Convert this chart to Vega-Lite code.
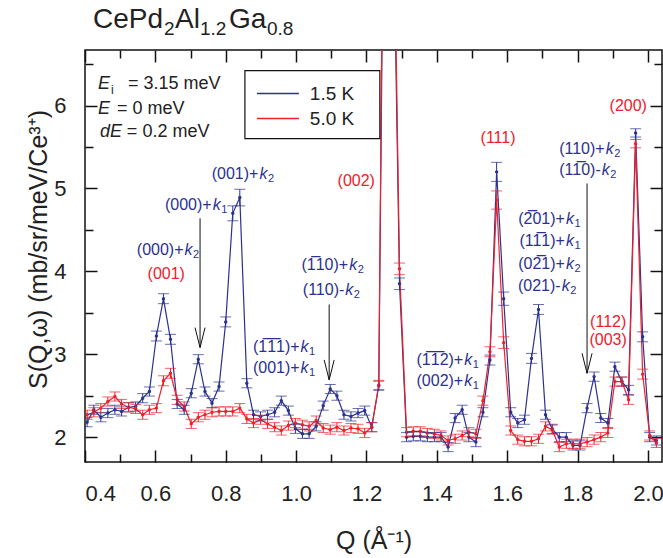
{
"$schema": "https://vega.github.io/schema/vega-lite/v6.json",
"width": 577, "height": 412, "autosize": "none",
"padding": {"left": 85, "top": 50, "right": 1, "bottom": 96},
"background": "white",
"config": {
 "font": "Liberation Sans",
 "view": {"stroke": "#111", "strokeWidth": 1.5},
 "axis": {"grid": false, "domain": false, "tickColor": "#111", "tickWidth": 1.5, "labelFont": "Liberation Sans", "labelFontSize": 22, "labelColor": "#222", "titleFont": "Liberation Sans", "titleFontWeight": "normal", "titleFontSize": 25, "titleColor": "#222"}
},
"datasets": {
"d": [
{"Q":0.406,"T":"1.5 K","S":2.18,"e":0.055},{"Q":0.425,"T":"1.5 K","S":2.33,"e":0.055},{"Q":0.445,"T":"1.5 K","S":2.24,"e":0.055},{"Q":0.465,"T":"1.5 K","S":2.29,"e":0.055},{"Q":0.485,"T":"1.5 K","S":2.33,"e":0.055},{"Q":0.504,"T":"1.5 K","S":2.31,"e":0.055},{"Q":0.524,"T":"1.5 K","S":2.36,"e":0.055},{"Q":0.544,"T":"1.5 K","S":2.37,"e":0.055},{"Q":0.564,"T":"1.5 K","S":2.47,"e":0.055},{"Q":0.583,"T":"1.5 K","S":2.55,"e":0.055},
{"Q":0.603,"T":"1.5 K","S":3.22,"e":0.06},{"Q":0.623,"T":"1.5 K","S":3.67,"e":0.06},{"Q":0.643,"T":"1.5 K","S":3.18,"e":0.06},{"Q":0.662,"T":"1.5 K","S":2.40,"e":0.055},{"Q":0.682,"T":"1.5 K","S":2.33,"e":0.055},{"Q":0.702,"T":"1.5 K","S":2.53,"e":0.055},{"Q":0.722,"T":"1.5 K","S":2.94,"e":0.055},{"Q":0.741,"T":"1.5 K","S":2.55,"e":0.055},{"Q":0.761,"T":"1.5 K","S":2.41,"e":0.055},{"Q":0.781,"T":"1.5 K","S":2.61,"e":0.055},
{"Q":0.800,"T":"1.5 K","S":3.39,"e":0.06},{"Q":0.820,"T":"1.5 K","S":4.70,"e":0.09},{"Q":0.840,"T":"1.5 K","S":4.89,"e":0.1},{"Q":0.860,"T":"1.5 K","S":2.65,"e":0.055},{"Q":0.879,"T":"1.5 K","S":2.27,"e":0.055},{"Q":0.899,"T":"1.5 K","S":2.25,"e":0.055},{"Q":0.919,"T":"1.5 K","S":2.27,"e":0.055},{"Q":0.939,"T":"1.5 K","S":2.30,"e":0.055},{"Q":0.958,"T":"1.5 K","S":2.44,"e":0.055},{"Q":0.978,"T":"1.5 K","S":2.32,"e":0.055},
{"Q":0.998,"T":"1.5 K","S":2.10,"e":0.055},{"Q":1.018,"T":"1.5 K","S":2.04,"e":0.055},{"Q":1.037,"T":"1.5 K","S":2.04,"e":0.055},{"Q":1.057,"T":"1.5 K","S":2.13,"e":0.055},{"Q":1.077,"T":"1.5 K","S":2.38,"e":0.055},{"Q":1.097,"T":"1.5 K","S":2.58,"e":0.055},{"Q":1.116,"T":"1.5 K","S":2.50,"e":0.055},{"Q":1.136,"T":"1.5 K","S":2.27,"e":0.055},{"Q":1.156,"T":"1.5 K","S":2.25,"e":0.055},{"Q":1.176,"T":"1.5 K","S":2.29,"e":0.055},
{"Q":1.195,"T":"1.5 K","S":2.32,"e":0.055},{"Q":1.215,"T":"1.5 K","S":2.12,"e":0.055},{"Q":1.235,"T":"1.5 K","S":2.62,"e":0.055},{"Q":1.255,"T":"1.5 K","S":11.5,"e":0.2},{"Q":1.274,"T":"1.5 K","S":9.0,"e":0.2},{"Q":1.294,"T":"1.5 K","S":3.85,"e":0.07},{"Q":1.314,"T":"1.5 K","S":2.00,"e":0.055},{"Q":1.333,"T":"1.5 K","S":2.01,"e":0.055},{"Q":1.353,"T":"1.5 K","S":2.01,"e":0.055},{"Q":1.373,"T":"1.5 K","S":2.00,"e":0.055},
{"Q":1.393,"T":"1.5 K","S":2.00,"e":0.055},{"Q":1.412,"T":"1.5 K","S":2.00,"e":0.055},{"Q":1.432,"T":"1.5 K","S":1.88,"e":0.055},{"Q":1.452,"T":"1.5 K","S":2.23,"e":0.055},{"Q":1.472,"T":"1.5 K","S":2.33,"e":0.055},{"Q":1.491,"T":"1.5 K","S":2.00,"e":0.055},{"Q":1.511,"T":"1.5 K","S":1.94,"e":0.055},{"Q":1.531,"T":"1.5 K","S":2.30,"e":0.055},{"Q":1.551,"T":"1.5 K","S":2.93,"e":0.06},{"Q":1.570,"T":"1.5 K","S":5.20,"e":0.115},
{"Q":1.590,"T":"1.5 K","S":3.67,"e":0.08},{"Q":1.610,"T":"1.5 K","S":2.30,"e":0.055},{"Q":1.630,"T":"1.5 K","S":2.17,"e":0.055},{"Q":1.649,"T":"1.5 K","S":2.21,"e":0.055},{"Q":1.669,"T":"1.5 K","S":2.95,"e":0.06},{"Q":1.689,"T":"1.5 K","S":3.54,"e":0.06},{"Q":1.709,"T":"1.5 K","S":2.27,"e":0.055},{"Q":1.728,"T":"1.5 K","S":2.10,"e":0.055},{"Q":1.748,"T":"1.5 K","S":2.00,"e":0.055},{"Q":1.768,"T":"1.5 K","S":2.00,"e":0.055},
{"Q":1.787,"T":"1.5 K","S":1.90,"e":0.055},{"Q":1.807,"T":"1.5 K","S":1.90,"e":0.055},{"Q":1.827,"T":"1.5 K","S":2.35,"e":0.055},{"Q":1.847,"T":"1.5 K","S":2.73,"e":0.055},{"Q":1.866,"T":"1.5 K","S":2.23,"e":0.055},{"Q":1.886,"T":"1.5 K","S":2.17,"e":0.055},{"Q":1.906,"T":"1.5 K","S":2.85,"e":0.055},{"Q":1.926,"T":"1.5 K","S":2.67,"e":0.055},{"Q":1.945,"T":"1.5 K","S":2.57,"e":0.055},{"Q":1.965,"T":"1.5 K","S":5.67,"e":0.05},
{"Q":1.985,"T":"1.5 K","S":3.21,"e":0.06},{"Q":2.005,"T":"1.5 K","S":2.00,"e":0.055},{"Q":2.024,"T":"1.5 K","S":1.96,"e":0.055},
{"Q":0.406,"T":"5.0 K","S":2.27,"e":0.055},{"Q":0.425,"T":"5.0 K","S":2.30,"e":0.055},{"Q":0.445,"T":"5.0 K","S":2.35,"e":0.055},{"Q":0.465,"T":"5.0 K","S":2.43,"e":0.055},{"Q":0.485,"T":"5.0 K","S":2.49,"e":0.055},{"Q":0.504,"T":"5.0 K","S":2.40,"e":0.055},{"Q":0.524,"T":"5.0 K","S":2.36,"e":0.055},{"Q":0.544,"T":"5.0 K","S":2.34,"e":0.055},{"Q":0.564,"T":"5.0 K","S":2.27,"e":0.055},{"Q":0.583,"T":"5.0 K","S":2.33,"e":0.055},
{"Q":0.603,"T":"5.0 K","S":2.35,"e":0.055},{"Q":0.623,"T":"5.0 K","S":2.68,"e":0.06},{"Q":0.643,"T":"5.0 K","S":2.77,"e":0.06},{"Q":0.662,"T":"5.0 K","S":2.45,"e":0.055},{"Q":0.682,"T":"5.0 K","S":2.37,"e":0.055},{"Q":0.702,"T":"5.0 K","S":2.16,"e":0.055},{"Q":0.722,"T":"5.0 K","S":2.24,"e":0.055},{"Q":0.741,"T":"5.0 K","S":2.27,"e":0.055},{"Q":0.761,"T":"5.0 K","S":2.30,"e":0.055},{"Q":0.781,"T":"5.0 K","S":2.31,"e":0.055},
{"Q":0.800,"T":"5.0 K","S":2.31,"e":0.055},{"Q":0.820,"T":"5.0 K","S":2.31,"e":0.055},{"Q":0.840,"T":"5.0 K","S":2.35,"e":0.055},{"Q":0.860,"T":"5.0 K","S":2.22,"e":0.055},{"Q":0.879,"T":"5.0 K","S":2.17,"e":0.055},{"Q":0.899,"T":"5.0 K","S":2.21,"e":0.055},{"Q":0.919,"T":"5.0 K","S":2.16,"e":0.055},{"Q":0.939,"T":"5.0 K","S":2.12,"e":0.055},{"Q":0.958,"T":"5.0 K","S":2.08,"e":0.055},{"Q":0.978,"T":"5.0 K","S":2.14,"e":0.055},
{"Q":0.998,"T":"5.0 K","S":2.17,"e":0.055},{"Q":1.018,"T":"5.0 K","S":2.15,"e":0.055},{"Q":1.037,"T":"5.0 K","S":2.13,"e":0.055},{"Q":1.057,"T":"5.0 K","S":2.20,"e":0.055},{"Q":1.077,"T":"5.0 K","S":2.11,"e":0.055},{"Q":1.097,"T":"5.0 K","S":2.09,"e":0.055},{"Q":1.116,"T":"5.0 K","S":2.12,"e":0.055},{"Q":1.136,"T":"5.0 K","S":2.08,"e":0.055},{"Q":1.156,"T":"5.0 K","S":2.11,"e":0.055},{"Q":1.176,"T":"5.0 K","S":2.10,"e":0.055},
{"Q":1.195,"T":"5.0 K","S":2.05,"e":0.055},{"Q":1.215,"T":"5.0 K","S":2.12,"e":0.055},{"Q":1.235,"T":"5.0 K","S":2.63,"e":0.055},{"Q":1.255,"T":"5.0 K","S":12.5,"e":0.2},{"Q":1.274,"T":"5.0 K","S":9.5,"e":0.2},{"Q":1.294,"T":"5.0 K","S":4.03,"e":0.07},{"Q":1.314,"T":"5.0 K","S":2.06,"e":0.055},{"Q":1.333,"T":"5.0 K","S":2.07,"e":0.055},{"Q":1.353,"T":"5.0 K","S":2.07,"e":0.055},{"Q":1.373,"T":"5.0 K","S":2.05,"e":0.055},
{"Q":1.393,"T":"5.0 K","S":2.04,"e":0.055},{"Q":1.412,"T":"5.0 K","S":2.02,"e":0.055},{"Q":1.432,"T":"5.0 K","S":1.96,"e":0.055},{"Q":1.452,"T":"5.0 K","S":1.98,"e":0.055},{"Q":1.472,"T":"5.0 K","S":2.02,"e":0.055},{"Q":1.491,"T":"5.0 K","S":2.06,"e":0.055},{"Q":1.511,"T":"5.0 K","S":2.04,"e":0.055},{"Q":1.531,"T":"5.0 K","S":2.44,"e":0.055},{"Q":1.551,"T":"5.0 K","S":3.03,"e":0.06},{"Q":1.570,"T":"5.0 K","S":4.86,"e":0.11},
{"Q":1.590,"T":"5.0 K","S":3.14,"e":0.07},{"Q":1.610,"T":"5.0 K","S":2.08,"e":0.055},{"Q":1.630,"T":"5.0 K","S":1.97,"e":0.055},{"Q":1.649,"T":"5.0 K","S":1.95,"e":0.055},{"Q":1.669,"T":"5.0 K","S":1.95,"e":0.055},{"Q":1.689,"T":"5.0 K","S":1.98,"e":0.055},{"Q":1.709,"T":"5.0 K","S":2.13,"e":0.055},{"Q":1.728,"T":"5.0 K","S":2.09,"e":0.055},{"Q":1.748,"T":"5.0 K","S":1.88,"e":0.055},{"Q":1.768,"T":"5.0 K","S":1.92,"e":0.055},
{"Q":1.787,"T":"5.0 K","S":1.92,"e":0.055},{"Q":1.807,"T":"5.0 K","S":1.92,"e":0.055},{"Q":1.827,"T":"5.0 K","S":1.94,"e":0.055},{"Q":1.847,"T":"5.0 K","S":1.97,"e":0.055},{"Q":1.866,"T":"5.0 K","S":2.00,"e":0.055},{"Q":1.886,"T":"5.0 K","S":2.05,"e":0.055},{"Q":1.906,"T":"5.0 K","S":2.67,"e":0.055},{"Q":1.926,"T":"5.0 K","S":2.67,"e":0.055},{"Q":1.945,"T":"5.0 K","S":2.45,"e":0.055},{"Q":1.965,"T":"5.0 K","S":5.54,"e":0.05},
{"Q":1.985,"T":"5.0 K","S":2.76,"e":0.06},{"Q":2.005,"T":"5.0 K","S":2.02,"e":0.055},{"Q":2.024,"T":"5.0 K","S":1.93,"e":0.055}
],
"navy": [
{"Q":0.680,"S":4.253,"pre":"(000)+","sub":"2"},
{"Q":0.760,"S":4.795,"pre":"(000)+","sub":"1"},
{"Q":0.893,"S":5.177,"pre":"(001)+","sub":"2"},
{"Q":1.010,"S":3.088,"pre":"(1\u03051\u03051)+","sub":"1"},
{"Q":1.010,"S":2.828,"pre":"(001)+","sub":"1"},
{"Q":1.148,"S":4.081,"pre":"(1\u030510)+","sub":"2"},
{"Q":1.137,"S":3.771,"pre":"(110)-","sub":"2"},
{"Q":1.764,"S":4.627,"pre":"(2\u030501)+","sub":"1"},
{"Q":1.764,"S":4.365,"pre":"(11\u03051)+","sub":"1"},
{"Q":1.764,"S":4.093,"pre":"(02\u03051)+","sub":"2"},
{"Q":1.752,"S":3.823,"pre":"(021)-","sub":"2"},
{"Q":1.877,"S":5.478,"pre":"(110)+","sub":"2"},
{"Q":1.866,"S":5.217,"pre":"(11\u03050)-","sub":"2"},
{"Q":1.475,"S":2.928,"pre":"(1\u03051\u03052)+","sub":"1"},
{"Q":1.475,"S":2.675,"pre":"(002)+","sub":"1"}
],
"red": [
{"Q":0.631,"S":3.972,"t":"(001)"},{"Q":1.171,"S":5.088,"t":"(002)"},{"Q":1.574,"S":5.611,"t":"(111)"},{"Q":1.887,"S":3.39,"t":"(112)"},{"Q":1.887,"S":3.17,"t":"(003)"},{"Q":1.944,"S":6.0,"t":"(200)"}
],
"arrows": [
{"Q":0.727,"S":4.64,"S2":3.08},{"Q":1.094,"S":3.60,"S2":2.69},{"Q":1.827,"S":5.06,"S2":2.77}
],
"infoIt": [
{"Q":0.471,"S":6.265,"t":"E"},{"Q":0.471,"S":5.964,"t":"E"},{"Q":0.505,"S":5.675,"t":"dE"}
],
"infoRest": [
{"Q":0.522,"S":6.265,"t":"= 3.15 meV"},{"Q":0.491,"S":5.964,"t":"= 0 meV"},{"Q":0.519,"S":5.675,"t":"= 0.2 meV"}
],
"infoSub": [
{"Q":0.474,"S":6.265,"t":"i"}
],
"titleMain": [
{"Q":0.4227,"S":6.94,"t":"CePd"},{"Q":0.6557,"S":6.94,"t":"Al"},{"Q":0.8091,"S":6.94,"t":"Ga"}
],
"titleSub": [
{"Q":0.6244,"S":6.855,"t":"2"},{"Q":0.7267,"S":6.855,"t":"1.2"},{"Q":0.917,"S":6.855,"t":"0.8"}
],
"legBox": [
{"Q":0.8545,"Q2":1.238,"S":6.422,"S2":5.602}
],
"legRows": [
{"Q":0.8886,"Q2":1.008,"L":1.039,"S":6.145,"T":"1.5 K"},{"Q":0.8886,"Q2":1.008,"L":1.039,"S":5.843,"T":"5.0 K"}
]
},
"resolve": {"axis": {"x": "independent", "y": "independent"}},
"layer": [
{
 "data": {"name": "d"},
 "mark": {"type": "line", "strokeWidth": 1.2, "clip": true, "point": {"filled": true, "size": 12}},
 "encoding": {
  "x": {"field": "Q", "type": "quantitative", "scale": {"domain": [0.4, 2.04], "nice": false, "zero": false},
        "axis": {"orient": "bottom", "values": [0.4,0.6,0.8,1.0,1.2,1.4,1.6,1.8,2.0], "format": ".1f", "tickSize": -12, "labelPadding": 33, "title": "Q (Å⁻¹)", "titleY": 78, "titleBaseline": "middle"}},
  "y": {"field": "S", "type": "quantitative", "scale": {"domain": [1.7, 6.67], "nice": false, "zero": false},
        "axis": {"orient": "left", "values": [2,3,4,5,6], "tickSize": -12, "labelPadding": 31, "title": "S(Q,ω) (mb/sr/meV/Ce³⁺)", "titleX": -47, "titleY": 199, "titleAngle": -90, "titleAlign": "center", "titleBaseline": "middle"}},
  "color": {"field": "T", "type": "nominal", "scale": {"domain": ["1.5 K", "5.0 K"], "range": ["#2b3190", "#f0202a"]}, "legend": null}
 }
},
{
 "data": {"name": "d"},
 "mark": {"type": "errorbar", "ticks": {"size": 11}, "thickness": 1, "clip": true},
 "encoding": {
  "x": {"field": "Q", "type": "quantitative", "scale": {"domain": [0.4, 2.04], "nice": false, "zero": false},
        "axis": {"orient": "top", "values": [0.4,0.6,0.8,1.0,1.2,1.4,1.6,1.8,2.0], "tickSize": -12, "labels": false, "title": null}},
  "y": {"field": "S", "type": "quantitative", "scale": {"domain": [1.7, 6.67], "nice": false, "zero": false},
        "axis": {"orient": "right", "values": [2,3,4,5,6], "tickSize": -12, "labels": false, "title": null}},
  "yError": {"field": "e"},
  "color": {"field": "T", "type": "nominal", "legend": null}
 }
},
{
 "data": {"name": "navy"},
 "mark": {"type": "text", "align": "right", "baseline": "middle", "fontSize": 16, "color": "#2b3190", "font": "Liberation Sans"},
 "encoding": {
  "x": {"field": "Q", "type": "quantitative", "axis": {"orient": "bottom", "values": [0.5,0.7,0.9,1.1,1.3,1.5,1.7,1.9], "tickSize": -8, "labels": false, "title": null}},
  "y": {"field": "S", "type": "quantitative", "axis": {"orient": "left", "values": [2.5,3.5,4.5,5.5,6.5], "tickSize": -8, "labels": false, "title": null}},
  "text": {"field": "pre"}
 }
},
{
 "data": {"name": "navy"},
 "mark": {"type": "text", "align": "left", "baseline": "middle", "fontSize": 16, "fontStyle": "italic", "color": "#2b3190", "font": "Liberation Sans", "dx": 1},
 "encoding": {
  "x": {"field": "Q", "type": "quantitative", "axis": {"orient": "top", "values": [0.5,0.7,0.9,1.1,1.3,1.5,1.7,1.9], "tickSize": -8, "labels": false, "title": null}},
  "y": {"field": "S", "type": "quantitative", "axis": {"orient": "right", "values": [2.5,3.5,4.5,5.5,6.5], "tickSize": -8, "labels": false, "title": null}},
  "text": {"value": "k"}
 }
},
{
 "data": {"name": "navy"},
 "mark": {"type": "text", "align": "left", "baseline": "middle", "fontSize": 11, "color": "#2b3190", "font": "Liberation Sans", "dx": 9.5, "dy": 5},
 "encoding": {
  "x": {"field": "Q", "type": "quantitative", "axis": null},
  "y": {"field": "S", "type": "quantitative", "axis": null},
  "text": {"field": "sub"}
 }
},
{
 "data": {"name": "red"},
 "mark": {"type": "text", "align": "center", "baseline": "middle", "fontSize": 16, "color": "#f0202a", "font": "Liberation Sans"},
 "encoding": {
  "x": {"field": "Q", "type": "quantitative", "axis": null},
  "y": {"field": "S", "type": "quantitative", "axis": null},
  "text": {"field": "t"}
 }
},
{
 "data": {"name": "arrows"},
 "mark": {"type": "rule", "color": "#111", "strokeWidth": 1},
 "encoding": {
  "x": {"field": "Q", "type": "quantitative", "axis": null},
  "y": {"field": "S", "type": "quantitative", "axis": null},
  "y2": {"field": "S2"}
 }
},
{
 "data": {"name": "arrows"},
 "mark": {"type": "point", "shape": "M-0.25,-1L0,0L0.25,-1", "size": 1600, "filled": false, "color": "#111", "strokeWidth": 1, "opacity": 1},
 "encoding": {
  "x": {"field": "Q", "type": "quantitative", "axis": null},
  "y": {"field": "S2", "type": "quantitative", "axis": null}
 }
},
{
 "data": {"name": "infoIt"},
 "mark": {"type": "text", "align": "right", "baseline": "middle", "fontSize": 18, "fontStyle": "italic", "color": "#222", "font": "Liberation Sans"},
 "encoding": {
  "x": {"field": "Q", "type": "quantitative", "axis": null},
  "y": {"field": "S", "type": "quantitative", "axis": null},
  "text": {"field": "t"}
 }
},
{
 "data": {"name": "infoRest"},
 "mark": {"type": "text", "align": "left", "baseline": "middle", "fontSize": 18, "color": "#222", "font": "Liberation Sans"},
 "encoding": {
  "x": {"field": "Q", "type": "quantitative", "axis": null},
  "y": {"field": "S", "type": "quantitative", "axis": null},
  "text": {"field": "t"}
 }
},
{
 "data": {"name": "infoSub"},
 "mark": {"type": "text", "align": "left", "baseline": "middle", "fontSize": 12, "color": "#222", "font": "Liberation Sans", "dy": 6},
 "encoding": {
  "x": {"field": "Q", "type": "quantitative", "axis": null},
  "y": {"field": "S", "type": "quantitative", "axis": null},
  "text": {"field": "t"}
 }
},
{
 "data": {"name": "titleMain"},
 "mark": {"type": "text", "align": "left", "baseline": "alphabetic", "fontSize": 28, "color": "#222", "font": "Liberation Sans"},
 "encoding": {
  "x": {"field": "Q", "type": "quantitative", "axis": null},
  "y": {"field": "S", "type": "quantitative", "axis": null},
  "text": {"field": "t"}
 }
},
{
 "data": {"name": "titleSub"},
 "mark": {"type": "text", "align": "left", "baseline": "alphabetic", "fontSize": 19, "color": "#222", "font": "Liberation Sans"},
 "encoding": {
  "x": {"field": "Q", "type": "quantitative", "axis": null},
  "y": {"field": "S", "type": "quantitative", "axis": null},
  "text": {"field": "t"}
 }
},
{
 "data": {"name": "legBox"},
 "mark": {"type": "rect", "fill": "white", "stroke": "#111", "strokeWidth": 1.2},
 "encoding": {
  "x": {"field": "Q", "type": "quantitative", "axis": null},
  "x2": {"field": "Q2"},
  "y": {"field": "S", "type": "quantitative", "axis": null},
  "y2": {"field": "S2"}
 }
},
{
 "data": {"name": "legRows"},
 "mark": {"type": "rule", "strokeWidth": 1.5},
 "encoding": {
  "x": {"field": "Q", "type": "quantitative", "axis": null},
  "x2": {"field": "Q2"},
  "y": {"field": "S", "type": "quantitative", "axis": null},
  "color": {"field": "T", "type": "nominal", "legend": null}
 }
},
{
 "data": {"name": "legRows"},
 "mark": {"type": "text", "align": "left", "baseline": "middle", "fontSize": 19, "color": "#222", "font": "Liberation Sans"},
 "encoding": {
  "x": {"field": "L", "type": "quantitative", "axis": null},
  "y": {"field": "S", "type": "quantitative", "axis": null},
  "text": {"field": "T"}
 }
}
]
}
